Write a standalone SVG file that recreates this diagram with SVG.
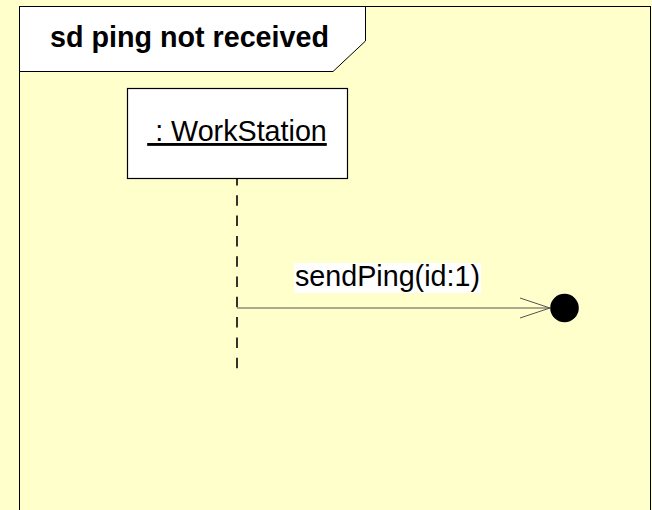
<svg xmlns="http://www.w3.org/2000/svg" width="652" height="510" viewBox="0 0 652 510">
<style>
text{font-family:"Liberation Sans",Arial,sans-serif;fill:#000;font-size:28.7px}
.frame{fill:none;stroke:#000;stroke-width:1}
.tab{fill:#fff;stroke:#000;stroke-width:1}
.box{fill:#fff;stroke:#000;stroke-width:1.2}
.life{stroke:#000;stroke-width:1.6;stroke-dasharray:10.5 9.8;stroke-dashoffset:4}
.msg{stroke:#555;stroke-width:1;fill:none}
</style>
<rect x="0" y="0" width="652" height="510" fill="#FFFFCC"/>
<g id="frame">
<rect class="frame" x="19.5" y="6.5" width="631" height="520"/>
<path class="tab" d="M19.5 6.5 H365.5 V41 L333 71.5 H19.5 Z"/>
<text x="50" y="47" font-weight="bold">sd ping not received</text>
</g>
<g id="workstation">
<rect class="box" x="127.5" y="88.5" width="220" height="90"/>
<text x="237" y="141" text-anchor="middle" text-decoration="underline" xml:space="preserve"> : WorkStation</text>
</g>
<g id="lost">
<circle cx="564.5" cy="308" r="14.3" fill="#000"/>
</g>
<g id="connectors">
<line class="life" x1="237" y1="179" x2="237" y2="369"/>
<line class="msg" x1="237" y1="308" x2="550" y2="308"/>
<polyline class="msg" points="520,298 550,308 520,318"/>
<rect x="294" y="263" width="187" height="30" fill="#fff"/>
<text x="295" y="286">sendPing(id:1)</text>
</g>
</svg>
